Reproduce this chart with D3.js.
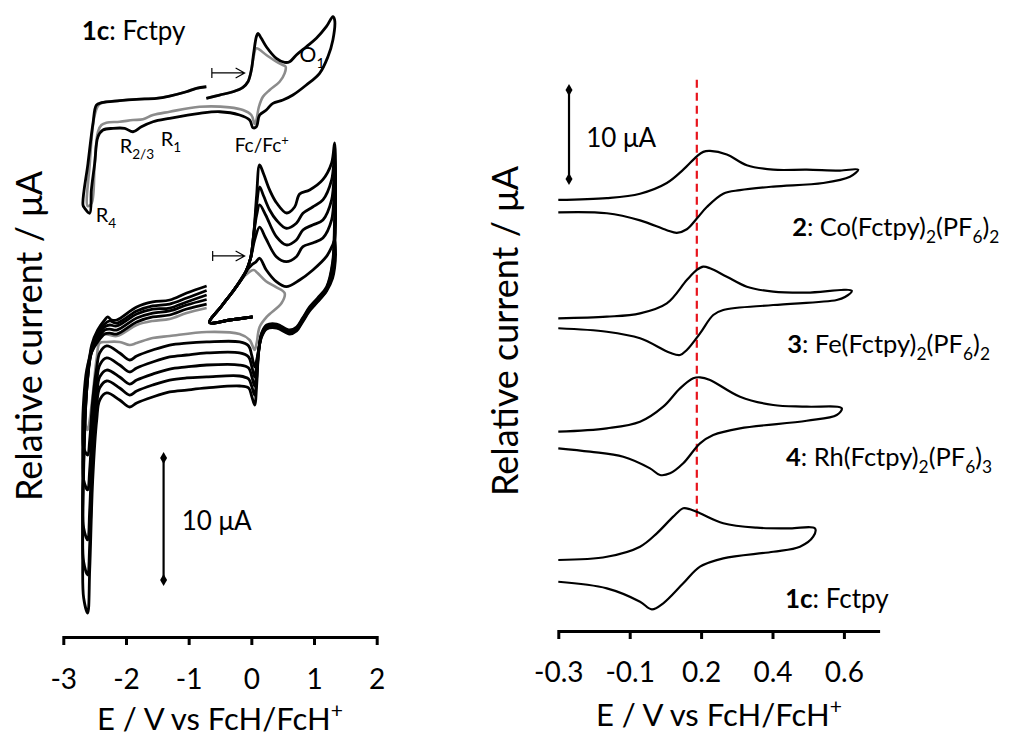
<!DOCTYPE html>
<html>
<head>
<meta charset="utf-8">
<script src="https://cdn.jsdelivr.net/npm/d3@7"></script>
<style>
  body { margin: 0; background: #fff; }
  svg text { font-family: Lato, "Open Sans", sans-serif; fill: #000; }
</style>
</head>
<body>
<div id="root"></div>
<script>
// ---- left panel: 1c (Fctpy), potential E / V and current / uA ----
var leftTicks = [-3, -2, -1, 0, 1, 2];

// single scan, full window (black) and Fc-only window (grey)
var topBlack = [[-0.718,42.76],[-0.506,43.03],[-0.293,43.30],[-0.134,43.66],[-0.054,44.12],[0,45.08],[0.037,46.45],[0.080,47.81],[0.105,48.09],[0.159,47.68],[0.239,46.99],[0.399,46.04],[0.531,45.71],[0.611,45.76],[0.718,46.31],[0.877,46.99],[1.037,47.68],[1.196,48.63],[1.301,49.45],[1.329,49.18],[1.301,47.54],[1.222,46.17],[1.089,44.81],[0.877,43.85],[0.663,43.03],[0.504,42.62],[0.344,42.35],[0.239,41.80],[0.132,41.39],[0.080,40.43],[0.026,40.35],[-0.027,40.98],[-0.187,41.39],[-0.506,41.66],[-0.825,41.53],[-1.303,41.12],[-1.569,40.84],[-1.754,40.43],[-1.888,40.02],[-2.021,40.30],[-2.207,40.30],[-2.367,40.16],[-2.447,39.61],[-2.499,37.43],[-2.552,35.25],[-2.579,33.34],[-2.659,33.75],[-2.686,34.02],[-2.606,37.43],[-2.526,40.71],[-2.472,42.21],[-2.392,42.40],[-2.100,42.57],[-1.834,42.68],[-1.515,42.76],[-1.303,42.95],[-1.037,43.30],[-0.877,43.58],[-0.718,43.71]];
var topGray = [[-0.718,42.76],[-0.506,43.03],[-0.293,43.30],[-0.134,43.66],[-0.054,44.12],[0,45.08],[0.037,46.20],[0.080,46.86],[0.239,46.31],[0.399,45.76],[0.504,45.49],[0.547,45.35],[0.531,44.81],[0.451,44.12],[0.292,43.44],[0.185,42.89],[0.121,42.07],[0.080,40.98],[0.053,40.66],[0,41.39],[-0.134,41.80],[-0.346,42.02],[-0.825,42.07],[-1.303,41.66],[-1.569,41.39],[-1.729,41.04],[-1.888,40.98],[-2.100,40.84],[-2.313,40.76],[-2.392,40.57],[-2.447,40.02],[-2.499,37.43],[-2.547,34.18],[-2.611,33.93],[-2.579,37.30],[-2.499,41.39],[-2.419,42.30],[-2.100,42.57],[-1.834,42.68],[-1.515,42.76],[-1.303,42.95],[-1.037,43.30],[-0.877,43.58],[-0.718,43.71]];

// repeated scans (5 black, 1 grey)
var scan1 = [[0.021,24.84],[-0.346,24.59],[-0.665,24.39],[-0.474,25.74],[-0.266,27.13],[-0.091,28.52],[-0.011,29.67],[0.037,31.56],[0.085,34.84],[0.132,37.30],[0.196,36.56],[0.292,35.25],[0.404,34.18],[0.563,33.36],[0.691,33.85],[0.770,34.92],[0.930,35.25],[1.137,36.07],[1.281,37.46],[1.328,39.10],[1.344,36.48],[1.328,32.79],[1.297,29.34],[1.201,27.30],[1.057,26.39],[0.930,25.66],[0.818,24.75],[0.722,24.02],[0.611,23.77],[0.404,24.26],[0.244,24.18],[0.164,23.52],[0.116,21.97],[0.085,19.26],[0.053,17.62],[0.005,18.36],[-0.043,19.02],[-0.187,19.18],[-0.713,19.02],[-1.032,18.85],[-1.303,18.69],[-1.574,18.28],[-1.829,17.79],[-1.941,17.46],[-2.101,18.03],[-2.308,18.61],[-2.419,18.03],[-2.467,16.39],[-2.531,11.48],[-2.579,4.10],[-2.611,0.57],[-2.675,1.80],[-2.691,4.92],[-2.675,12.30],[-2.627,18.85],[-2.547,22.54],[-2.451,23.77],[-2.340,24.59],[-2.292,24.84],[-2.228,24.59],[-2.148,24.59],[-1.829,25.66],[-1.574,26.07],[-1.303,26.23],[-1.032,26.80],[-0.713,27.38]];
var scan2 = [[0.021,24.84],[-0.346,24.59],[-0.665,24.39],[-0.474,25.74],[-0.266,27.13],[-0.091,28.52],[-0.011,29.67],[0.037,31.56],[0.085,34.02],[0.132,35.49],[0.196,34.75],[0.292,33.61],[0.399,32.79],[0.558,32.11],[0.718,32.52],[0.823,33.34],[0.978,33.85],[1.142,34.43],[1.281,36.07],[1.328,38.11],[1.344,35.66],[1.328,31.97],[1.297,29.10],[1.201,27.21],[1.057,26.31],[0.930,25.57],[0.818,24.67],[0.722,23.93],[0.611,23.69],[0.404,24.18],[0.244,24.10],[0.164,23.44],[0.116,21.97],[0.085,19.84],[0.053,18.44],[0.005,19.18],[-0.043,19.75],[-0.187,20.00],[-0.713,19.92],[-1.032,19.84],[-1.303,19.67],[-1.574,19.26],[-1.829,18.77],[-1.941,18.44],[-2.101,19.02],[-2.308,19.59],[-2.419,19.02],[-2.467,17.62],[-2.531,13.11],[-2.579,6.15],[-2.611,3.69],[-2.675,4.75],[-2.691,7.38],[-2.675,13.11],[-2.627,18.85],[-2.547,22.30],[-2.451,23.52],[-2.340,24.26],[-2.260,24.51],[-2.148,24.34],[-1.829,25.33],[-1.574,25.74],[-1.303,25.90],[-1.032,26.39],[-0.713,27.01]];
var scan3 = [[0.021,24.84],[-0.346,24.59],[-0.665,24.39],[-0.474,25.74],[-0.266,27.13],[-0.091,28.52],[-0.011,29.67],[0.037,31.56],[0.085,33.20],[0.132,34.02],[0.228,33.20],[0.399,31.42],[0.558,30.74],[0.718,31.15],[0.823,31.97],[0.978,32.38],[1.142,32.79],[1.281,34.43],[1.328,36.89],[1.344,34.43],[1.328,31.15],[1.297,28.85],[1.201,27.13],[1.057,26.23],[0.930,25.49],[0.818,24.59],[0.722,23.85],[0.611,23.61],[0.404,24.10],[0.244,24.02],[0.164,23.36],[0.116,21.97],[0.085,20.33],[0.053,19.18],[0.005,20.00],[-0.043,20.66],[-0.187,20.90],[-0.713,20.90],[-1.032,20.74],[-1.303,20.57],[-1.574,20.16],[-1.829,19.67],[-1.941,19.34],[-2.101,19.92],[-2.308,20.49],[-2.419,19.92],[-2.467,18.44],[-2.531,14.75],[-2.579,9.02],[-2.611,6.56],[-2.675,7.54],[-2.691,9.84],[-2.675,13.93],[-2.627,18.85],[-2.547,22.13],[-2.451,23.28],[-2.340,24.02],[-2.260,24.18],[-2.148,24.10],[-1.829,25.08],[-1.574,25.49],[-1.303,25.57],[-1.032,26.07],[-0.713,26.64]];
var scan4 = [[0.021,24.84],[-0.346,24.59],[-0.665,24.39],[-0.474,25.74],[-0.266,27.13],[-0.091,28.52],[-0.011,29.67],[0.053,31.15],[0.132,32.21],[0.228,31.31],[0.399,29.78],[0.558,29.37],[0.718,29.78],[0.823,30.60],[0.978,30.90],[1.142,31.31],[1.281,32.79],[1.328,35.25],[1.344,33.20],[1.328,30.33],[1.297,28.52],[1.201,27.05],[1.057,26.15],[0.930,25.41],[0.818,24.51],[0.722,23.77],[0.611,23.52],[0.404,24.02],[0.244,23.93],[0.164,23.28],[0.116,22.13],[0.085,20.90],[0.053,19.92],[0.005,20.82],[-0.043,21.56],[-0.187,21.89],[-0.713,21.89],[-1.032,21.72],[-1.303,21.56],[-1.574,21.15],[-1.829,20.66],[-1.941,20.33],[-2.101,20.90],[-2.308,21.48],[-2.419,20.90],[-2.467,19.51],[-2.531,16.39],[-2.579,12.30],[-2.611,10.66],[-2.675,11.48],[-2.691,13.52],[-2.675,16.39],[-2.627,19.67],[-2.547,21.97],[-2.451,23.03],[-2.340,23.77],[-2.260,23.85],[-2.148,23.77],[-1.829,24.75],[-1.574,25.16],[-1.303,25.33],[-1.032,25.82],[-0.713,26.27]];
var scan5 = [[0.021,24.84],[-0.346,24.59],[-0.665,24.39],[-0.474,25.74],[-0.266,27.13],[-0.091,28.52],[0.005,29.10],[0.069,29.34],[0.132,29.65],[0.239,28.69],[0.399,27.73],[0.558,27.32],[0.770,27.87],[0.982,28.69],[1.196,29.78],[1.297,30.74],[1.328,31.15],[1.344,29.92],[1.328,28.85],[1.297,28.03],[1.201,26.97],[1.057,26.07],[0.930,25.33],[0.818,24.43],[0.722,23.69],[0.611,23.44],[0.404,23.93],[0.244,23.85],[0.164,23.20],[0.116,22.13],[0.085,21.31],[0.053,20.74],[0.005,21.72],[-0.043,22.46],[-0.187,22.79],[-0.713,22.79],[-1.032,22.70],[-1.303,22.54],[-1.574,22.13],[-1.829,21.64],[-1.941,21.31],[-2.101,21.89],[-2.308,22.46],[-2.419,21.89],[-2.467,20.66],[-2.531,18.03],[-2.579,14.75],[-2.611,13.52],[-2.675,14.10],[-2.691,15.57],[-2.675,18.03],[-2.627,20.49],[-2.547,21.97],[-2.451,22.79],[-2.340,23.44],[-2.260,23.52],[-2.148,23.44],[-1.829,24.43],[-1.574,24.84],[-1.303,25.00],[-1.032,25.49],[-0.713,25.90]];
var scanGray = [[0.021,24.84],[-0.346,24.59],[-0.665,24.39],[-0.474,25.74],[-0.266,27.13],[-0.091,28.28],[0.037,28.69],[0.100,28.44],[0.228,27.79],[0.388,27.30],[0.531,26.80],[0.483,25.98],[0.244,24.84],[0.132,24.02],[0.085,22.70],[0.053,22.13],[-0.027,22.95],[-0.187,23.44],[-0.713,23.61],[-1.303,23.28],[-1.574,23.11],[-1.829,22.70],[-1.941,22.54],[-2.101,22.79],[-2.308,22.79],[-2.419,22.70],[-2.467,21.48],[-2.531,18.44],[-2.579,16.39],[-2.611,15.57],[-2.659,16.39],[-2.643,18.85],[-2.579,21.72],[-2.467,22.95],[-2.372,23.44],[-2.148,23.28],[-1.829,24.18],[-1.574,24.51],[-1.303,24.67],[-1.032,25.16],[-0.713,25.57]];

// ---- right panel: Fc wave of the complexes ----
var rightTickVals = [-0.3, -0.1, 0.1, 0.3, 0.5];
var rightTickLabels = ["-0.3", "-0.1", "0.2", "0.4", "0.6"];

var coCV = [[-0.300,47.2],[-0.164,47.4],[-0.071,47.9],[0.004,49.1],[0.050,50.6],[0.088,52.1],[0.106,52.6],[0.125,52.7],[0.172,52.3],[0.228,51.1],[0.302,50.6],[0.396,50.6],[0.489,50.5],[0.540,50.6],[0.517,49.8],[0.442,49.1],[0.302,48.7],[0.209,48.3],[0.162,47.9],[0.116,46.4],[0.088,45.1],[0.060,43.9],[0.032,43.5],[0.004,43.8],[-0.071,44.9],[-0.164,45.7],[-0.300,45.8]];
var feCV = [[-0.300,33.90],[-0.164,34.08],[-0.071,34.46],[0.004,35.58],[0.060,38.20],[0.088,39.33],[0.106,39.70],[0.125,39.52],[0.172,38.57],[0.228,37.45],[0.302,36.89],[0.396,36.78],[0.522,37.00],[0.503,36.29],[0.480,35.96],[0.302,35.39],[0.162,34.83],[0.134,34.27],[0.097,32.21],[0.060,30.34],[0.041,29.78],[0.013,30.03],[-0.071,31.65],[-0.164,32.39],[-0.300,32.78]];
var rhCV = [[-0.300,21.16],[-0.164,21.54],[-0.071,22.28],[-0.006,23.97],[0.041,26.03],[0.078,27.16],[0.097,27.27],[0.125,26.97],[0.209,25.09],[0.302,24.16],[0.396,23.97],[0.494,23.79],[0.480,23.03],[0.396,22.39],[0.209,21.54],[0.134,20.79],[0.097,19.85],[0.050,17.61],[0.013,16.48],[-0.015,16.29],[-0.043,17.04],[-0.118,18.35],[-0.211,18.91],[-0.300,19.29]];
var fcCV = [[-0.300,6.74],[-0.164,7.11],[-0.071,8.24],[-0.024,9.74],[0.022,11.61],[0.050,12.55],[0.069,12.44],[0.097,11.99],[0.162,10.87],[0.256,10.37],[0.349,10.30],[0.419,10.30],[0.414,9.36],[0.377,8.24],[0.302,7.67],[0.162,6.93],[0.097,5.99],[0.050,4.12],[-0.006,1.88],[-0.038,1.20],[-0.071,2.06],[-0.164,3.56],[-0.300,4.30]];

var W = 1013, H = 740;
var svg = d3.select("#root").append("svg").attr("width", W).attr("height", H);

var xL = d3.scaleLinear().domain([-3, 2]).range([63.3, 376.7]);
var yL = d3.scaleLinear().domain([0, 10]).range([620, 498]);
var xR = d3.scaleLinear().domain([-0.3, 0.6]).range([558.3, 879.6]);
var yR = d3.scaleLinear().domain([0, 10]).range([620, 531]);

function cvLine(x, y) {
    return d3.line()
        .x(function(d) { return x(d[0]); })
        .y(function(d) { return y(d[1]); })
        .curve(d3.curveCatmullRom.alpha(0.5));
}
var lineL = cvLine(xL, yL), lineR = cvLine(xR, yR);

// text with bold / sub / sup pieces
function richText(g, x, y, parts, size, anchor) {
    var t = g.append("text").attr("x", x).attr("y", y)
        .style("font-size", size + "px").attr("text-anchor", anchor || "start");
    var shift = 0;
    parts.forEach(function(p) {
        var s = t.append("tspan").text(p[0]);
        var target = p[1] == "sub" ? size * 0.28 : p[1] == "sup" ? -size * 0.38 : 0;
        if (target != shift) s.attr("dy", target - shift);
        shift = target;
        if (p[1] == "b") s.style("font-weight", "bold");
        if (p[1] == "sub" || p[1] == "sup") s.style("font-size", (size * 0.68) + "px");
    });
    return t;
}

function scaleBar(g, x, y0, y1) {
    g.append("line").attr("x1", x).attr("x2", x).attr("y1", y0).attr("y2", y1)
        .attr("stroke", "#000").attr("stroke-width", 2.2);
    [y0, y1].forEach(function(yy) {
        g.append("path").attr("d", d3.symbol(d3.symbolDiamond, 42)())
            .attr("transform", "translate(" + x + "," + yy + ")").attr("fill", "#000");
    });
}

function startArrow(g, x0, x1, y) {
    g.append("path")
        .attr("d", "M" + x0 + "," + (y - 5) + "V" + (y + 5) + "M" + x0 + "," + y + "H" + x1 +
              "M" + (x1 - 9) + "," + (y - 5) + "L" + x1 + "," + y + "L" + (x1 - 9) + "," + (y + 5))
        .attr("fill", "none").attr("stroke", "#000").attr("stroke-width", 1.2);
}

///////////////////////////////////////////////////////////////////////
// left panel
var gl = svg.append("g");
gl.append("path").datum(topGray).attr("d", lineL)
    .attr("fill", "none").attr("stroke", "#8c8c8c").attr("stroke-width", 2.6);
gl.append("path").datum(topBlack).attr("d", lineL)
    .attr("fill", "none").attr("stroke", "#000").attr("stroke-width", 2.8);

gl.append("path").datum(scanGray).attr("d", lineL)
    .attr("fill", "none").attr("stroke", "#8c8c8c").attr("stroke-width", 2.6);
gl.selectAll("path.scan").data([scan5, scan4, scan3, scan2, scan1]).enter()
    .append("path").attr("class", "scan").attr("d", lineL)
    .attr("fill", "none").attr("stroke", "#000").attr("stroke-width", 2.8);

var axL = gl.append("g").attr("transform", "translate(0,637)")
    .call(d3.axisBottom(xL).tickValues(leftTicks).tickSize(8).tickSizeOuter(0)
        .tickFormat(function(d) { return String(d); }));
axL.select(".domain").attr("stroke-width", 3);
axL.selectAll(".tick line").attr("stroke-width", 3).attr("y1", -1);
axL.selectAll(".tick text").attr("dy", null).attr("y", 52)
    .style("font-size", "28px").style("font-family", "Lato");

richText(gl, xL(-0.5), 730, [["E / V vs FcH/FcH", ""], ["+", "sup"]], 31, "middle");
richText(gl, 0, 0, [["Relative current / \u03bcA", ""]], 36, "middle")
    .attr("transform", "translate(42," + 336 + ") rotate(-90)");

richText(gl, xL(-2.707), yL(47.54), [["1c", "b"], [": Fctpy", ""]], 26);
richText(gl, xL(0.77), yL(45.74), [["O", ""], ["1", "sub"]], 21);
richText(gl, xL(-2.10), yL(38.28), [["R", ""], ["2/3", "sub"]], 20);
richText(gl, xL(-1.447), yL(38.85), [["R", ""], ["1", "sub"]], 20);
richText(gl, xL(-0.266), yL(38.36), [["Fc/Fc", ""], ["+", "sup"]], 19);
richText(gl, xL(-2.483), yL(32.62), [["R", ""], ["4", "sub"]], 20);
startArrow(gl, xL(-0.63), xL(-0.107), yL(44.84));
startArrow(gl, xL(-0.617), xL(-0.107), yL(29.84));
scaleBar(gl, xL(-1.40), yL(13.28), yL(3.28));
richText(gl, xL(-1.11), yL(7.38), [["10 \u03bcA", ""]], 26);

///////////////////////////////////////////////////////////////////////
// right panel
var gr = svg.append("g");
gr.append("line")
    .attr("x1", xR(0.088)).attr("x2", xR(0.088))
    .attr("y1", yR(60.7)).attr("y2", yR(11.1))
    .attr("stroke", "#e8141c").attr("stroke-width", 2.2).attr("stroke-dasharray", "8,5");

gr.selectAll("path.cv").data([coCV, feCV, rhCV, fcCV]).enter()
    .append("path").attr("class", "cv").attr("d", lineR)
    .attr("fill", "none").attr("stroke", "#000").attr("stroke-width", 2.2);

var axR = gr.append("g").attr("transform", "translate(0,631)")
    .call(d3.axisBottom(xR).tickValues(rightTickVals).tickSize(8).tickSizeOuter(0)
        .tickFormat(function(d, i) { return rightTickLabels[i]; }));
axR.select(".domain").attr("stroke-width", 3);
axR.selectAll(".tick line").attr("stroke-width", 3).attr("y1", -1);
axR.selectAll(".tick text").attr("dy", null).attr("y", 51)
    .style("font-size", "28px").style("font-family", "Lato");

richText(gr, xR(0.15), 726, [["E / V vs FcH/FcH", ""], ["+", "sup"]], 31, "middle");
richText(gr, 0, 0, [["Relative current / \u03bcA", ""]], 36, "middle")
    .attr("transform", "translate(518," + 331 + ") rotate(-90)");

scaleBar(gr, xR(-0.270), yR(59.55), yR(49.55));
richText(gr, xR(-0.222), yR(53.15), [["10 \u03bcA", ""]], 26);

richText(gr, xR(0.355), yR(43.15), [["2", "b"], [": Co(Fctpy)", ""], ["2", "sub"], ["(PF", ""], ["6", "sub"], [")", ""], ["2", "sub"]], 25.5);
richText(gr, xR(0.341), yR(30.0), [["3", "b"], [": Fe(Fctpy)", ""], ["2", "sub"], ["(PF", ""], ["6", "sub"], [")", ""], ["2", "sub"]], 25.5);
richText(gr, xR(0.338), yR(17.3), [["4", "b"], [": Rh(Fctpy)", ""], ["2", "sub"], ["(PF", ""], ["6", "sub"], [")", ""], ["3", "sub"]], 25.5);
richText(gr, xR(0.335), yR(1.35), [["1c", "b"], [": Fctpy", ""]], 26);
</script>
</body>
</html>
